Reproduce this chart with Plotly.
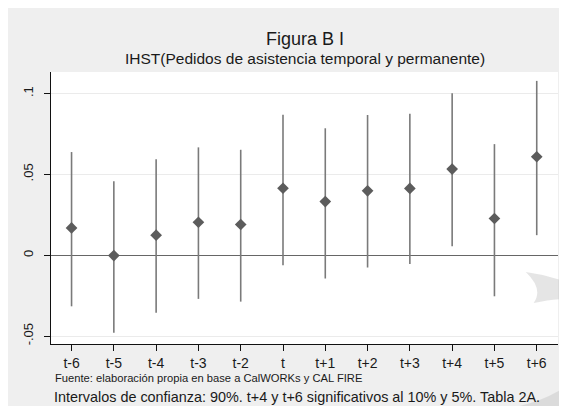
import plotly.graph_objects as go

periods = ["t-6", "t-5", "t-4", "t-3", "t-2", "t", "t+1", "t+2", "t+3", "t+4", "t+5", "t+6"]
coef = [0.0169, -0.0002, 0.0124, 0.0204, 0.0190, 0.0414, 0.0332, 0.0398, 0.0413, 0.0533, 0.0227, 0.0609]
ci_high = [0.0638, 0.0458, 0.0593, 0.0667, 0.0652, 0.0869, 0.0785, 0.0867, 0.0875, 0.1001, 0.0687, 0.1078]
ci_low = [-0.0316, -0.0479, -0.0355, -0.0270, -0.0287, -0.0062, -0.0144, -0.0076, -0.0054, 0.0056, -0.0254, 0.0124]
ytick_vals = [-0.05, 0, 0.05, 0.1]
ytick_text = ["-.05", "0", ".05", ".1"]

title = "Figura B I"
subtitle = "IHST(Pedidos de asistencia temporal y permanente)"
note1 = "Fuente: elaboración propia en base a CalWORKs y CAL FIRE"
note2 = "Intervalos de confianza: 90%. t+4 y t+6 significativos al 10% y 5%. Tabla 2A."

idx = list(range(len(periods)))
err_plus = [h - c for h, c in zip(ci_high, coef)]
err_minus = [c - l for c, l in zip(coef, ci_low)]

FONT = "Liberation Sans, Arial, sans-serif"

fig = go.Figure()
fig.add_trace(go.Scatter(
    x=idx, y=coef, mode="markers",
    marker=dict(symbol="diamond", size=9, color="#5c5c5c"),
    error_y=dict(type="data", symmetric=False, array=err_plus, arrayminus=err_minus,
                 width=0, thickness=1.6, color="#7a7a7a"),
    showlegend=False, hoverinfo="skip",
))

# figure frame (page body has an 8px margin)
W, H = 559, 398
L, R, T, B = 42.7, 550.3, 64.0, 336.0
pw, ph = R - L, B - T

def px_x(x):
    return (x - L) / pw

def px_y(y):
    return (B - y) / ph

def path_px(points):
    parts = []
    for cmd, pts in points:
        coords = " ".join(f"{px_x(x):.4f},{px_y(y):.4f}" for x, y in pts)
        parts.append(f"{cmd} {coords}")
    return " ".join(parts) + " Z"

swoosh1 = path_px([
    ("M", [(518, 264)]),
    ("Q", [(540, 267), (559, 274)]),
    ("L", [(559, 291)]),
    ("Q", [(545, 291), (526, 295)]),
    ("Q", [(536, 281), (518, 264)]),
])
swoosh2 = path_px([
    ("M", [(512, 398)]),
    ("Q", [(538, 392), (559, 378)]),
    ("L", [(559, 398)]),
])

fig.update_layout(
    width=W, height=H,
    margin=dict(l=L, r=W - R, t=T, b=H - B, pad=0),
    paper_bgcolor="#efefef", plot_bgcolor="white",
    font=dict(family=FONT, color="#1a1a1a"),
    xaxis=dict(
        range=[-0.486, 11.503], tickvals=idx, ticktext=periods,
        showgrid=False, zeroline=False,
        showline=True, linecolor="#111", linewidth=1.3,
        ticks="outside", ticklen=6, tickcolor="#111", tickwidth=1,
        tickfont=dict(size=14, color="#1a1a1a"),
    ),
    yaxis=dict(
        range=[-0.0549, 0.1133], tickvals=ytick_vals, ticktext=ytick_text,
        tickangle=-90,
        showgrid=True, gridcolor="#ebebeb", gridwidth=1,
        zeroline=True, zerolinecolor="#666", zerolinewidth=1.3,
        showline=True, linecolor="#111", linewidth=1.3,
        ticks="outside", ticklen=6, tickcolor="#111", tickwidth=1,
        tickfont=dict(size=13, color="#1a1a1a"),
        ticklabelstandoff=6,
    ),
    shapes=[
        dict(type="path", xref="paper", yref="paper", layer="above",
             path=swoosh1, fillcolor="rgba(190,190,190,0.4)", line=dict(width=0)),
        dict(type="path", xref="paper", yref="paper", layer="above",
             path=swoosh2, fillcolor="rgba(190,190,190,0.4)", line=dict(width=0)),
    ],
    annotations=[
        dict(text=title, xref="paper", yref="paper", x=0.5, y=px_y(31),
             xanchor="center", yanchor="middle", showarrow=False,
             font=dict(size=18, color="#1a1a1a")),
        dict(text=subtitle, xref="paper", yref="paper", x=0.5, y=px_y(51),
             xanchor="center", yanchor="middle", showarrow=False,
             font=dict(size=15.5, color="#1a1a1a")),
        dict(text=note1, xref="paper", yref="paper", x=px_x(45), y=px_y(370),
             xanchor="left", yanchor="middle", showarrow=False,
             font=dict(size=11.2, color="#1a1a1a")),
        dict(text=note2, xref="paper", yref="paper", x=px_x(44), y=px_y(389),
             xanchor="left", yanchor="middle", showarrow=False,
             font=dict(size=14.4, color="#1a1a1a")),
    ],
)

fig.write_html("out.html")
